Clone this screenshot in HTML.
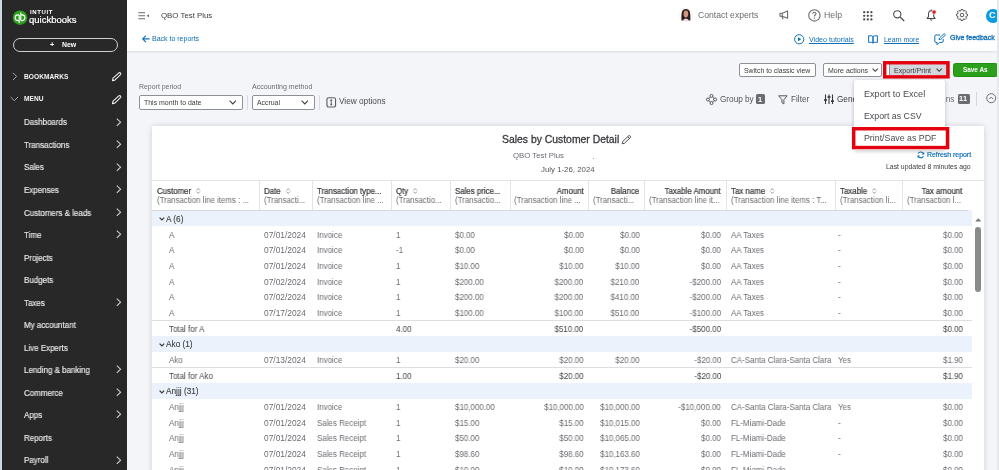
<!DOCTYPE html>
<html><head><meta charset="utf-8">
<style>
*{box-sizing:border-box;margin:0;padding:0}
html,body{width:999px;height:470px;overflow:hidden}
body{position:relative;background:#f4f5f8;font-family:"Liberation Sans",sans-serif;color:#393a3d}
.a{position:absolute;white-space:nowrap;will-change:transform}
svg{position:absolute;overflow:visible}
#lstrip{left:0;top:0;width:2px;height:470px;background:#cdd8e5}
#side{left:2px;top:0;width:125px;height:470px;background:#282828}
#rstrip{left:997px;top:0;width:2px;height:470px;background:#e6e7ea}
#hdr{left:127px;top:0;width:870px;height:52px;background:#fff;border-bottom:1.5px solid #e1e2e6;box-shadow:0 1px 1.5px rgba(0,0,0,0.04)}
.mi{left:24px;font-size:8.4px;color:#ececec;line-height:10px;-webkit-text-stroke:0.15px #ececec;transform:scaleX(0.95);transform-origin:0 0}
.sb{font-size:6.6px;font-weight:bold;color:#f4f4f4;left:24px;line-height:10px;letter-spacing:0.05px}
.lnk{color:#0d6fb8}
.gry{color:#6b6c72}
.hl{font-size:8.4px;line-height:10px;color:#393a3d;-webkit-text-stroke:0.22px #393a3d;transform:scaleX(0.94);transform-origin:0 0}
.hr{font-size:8.4px;line-height:10px;color:#393a3d;-webkit-text-stroke:0.22px #393a3d;transform:scaleX(0.94);transform-origin:100% 0}
.h2l{font-size:8.4px;line-height:10px;transform:scaleX(0.94);transform-origin:0 0}
.dl{font-size:8.4px;line-height:10px;transform:scaleX(0.95);transform-origin:0 0}
.dr{font-size:8.4px;line-height:10px;transform:scaleX(0.95);transform-origin:100% 0}
</style></head><body>
<div id="lstrip" class="a"></div>
<div id="side" class="a"></div>
<div id="hdr" class="a"></div>

<!-- sidebar content -->
<svg style="left:12px;top:9.5px" width="16" height="16" viewBox="0 0 16 16">
  <circle cx="8" cy="7.7" r="7.3" fill="#2ca01c"/>
  <path d="M7.2 4.9 H6 A2.85 2.85 0 0 0 6 10.6 H7.2 M7.2 4.9 V13 M8.8 10.6 H10 A2.85 2.85 0 0 0 10 4.9 H8.8 M8.8 2.6 V10.6" stroke="#fff" stroke-width="1.15" fill="none"/>
</svg>
<div class="a" style="left:29.7px;top:9px;font-size:6px;font-weight:bold;color:#fff;letter-spacing:0.6px;line-height:6px">INTUIT</div>
<div class="a" style="left:29.3px;top:13.6px;font-size:9.5px;color:#fff;line-height:11px;-webkit-text-stroke:0.2px #fff">quickbooks</div>
<div class="a" style="left:12.5px;top:38.3px;width:105px;height:13.5px;border:1.3px solid #cfcfcf;border-radius:7px"></div>
<div class="a" style="left:49.8px;top:39.6px;font-size:7.4px;font-weight:bold;color:#fff;line-height:10px">+</div><div class="a" style="left:62px;top:39.7px;font-size:6.9px;font-weight:bold;color:#fff;line-height:10px">New</div>

<svg style="left:12px;top:72px" width="6" height="9" viewBox="0 0 6 9"><path d="M1 0.8 L4.6 4.4 L1 8" stroke="#a8a8a8" stroke-width="1" fill="none"/></svg>
<div class="a sb" style="top:72px">BOOKMARKS</div>
<svg style="left:110.5px;top:72.3px" width="11" height="10" viewBox="0 0 11 10"><path d="M1.5 8.6 L2 6.2 L7.8 0.9 Q8.6 0.2 9.4 1 Q10.2 1.8 9.5 2.6 L3.8 8.1 Z" stroke="#eee" stroke-width="1.1" fill="none" stroke-linejoin="round"/></svg>

<svg style="left:10px;top:95.5px" width="9" height="6" viewBox="0 0 9 6"><path d="M0.6 1 L4.3 4.7 L8 1" stroke="#a8a8a8" stroke-width="1" fill="none"/></svg>
<div class="a sb" style="top:94px">MENU</div>
<svg style="left:110.5px;top:94.5px" width="11" height="10" viewBox="0 0 11 10"><path d="M1.5 8.6 L2 6.2 L7.8 0.9 Q8.6 0.2 9.4 1 Q10.2 1.8 9.5 2.6 L3.8 8.1 Z" stroke="#eee" stroke-width="1.1" fill="none" stroke-linejoin="round"/></svg>

<div class="a mi" style="top:117.40px">Dashboards</div>
<svg style="left:115.5px;top:117.60px" width="6" height="9" viewBox="0 0 6 9"><path d="M0.8 0.6 L4.6 4.2 L0.8 7.8" stroke="#cfcfcf" stroke-width="1.05" fill="none"/></svg>
<div class="a mi" style="top:139.93px">Transactions</div>
<svg style="left:115.5px;top:140.13px" width="6" height="9" viewBox="0 0 6 9"><path d="M0.8 0.6 L4.6 4.2 L0.8 7.8" stroke="#cfcfcf" stroke-width="1.05" fill="none"/></svg>
<div class="a mi" style="top:162.46px">Sales</div>
<svg style="left:115.5px;top:162.66px" width="6" height="9" viewBox="0 0 6 9"><path d="M0.8 0.6 L4.6 4.2 L0.8 7.8" stroke="#cfcfcf" stroke-width="1.05" fill="none"/></svg>
<div class="a mi" style="top:184.99px">Expenses</div>
<svg style="left:115.5px;top:185.19px" width="6" height="9" viewBox="0 0 6 9"><path d="M0.8 0.6 L4.6 4.2 L0.8 7.8" stroke="#cfcfcf" stroke-width="1.05" fill="none"/></svg>
<div class="a mi" style="top:207.52px">Customers &amp; leads</div>
<svg style="left:115.5px;top:207.72px" width="6" height="9" viewBox="0 0 6 9"><path d="M0.8 0.6 L4.6 4.2 L0.8 7.8" stroke="#cfcfcf" stroke-width="1.05" fill="none"/></svg>
<div class="a mi" style="top:230.05px">Time</div>
<svg style="left:115.5px;top:230.25px" width="6" height="9" viewBox="0 0 6 9"><path d="M0.8 0.6 L4.6 4.2 L0.8 7.8" stroke="#cfcfcf" stroke-width="1.05" fill="none"/></svg>
<div class="a mi" style="top:252.58px">Projects</div>
<div class="a mi" style="top:275.11px">Budgets</div>
<div class="a mi" style="top:297.64px">Taxes</div>
<svg style="left:115.5px;top:297.84px" width="6" height="9" viewBox="0 0 6 9"><path d="M0.8 0.6 L4.6 4.2 L0.8 7.8" stroke="#cfcfcf" stroke-width="1.05" fill="none"/></svg>
<div class="a mi" style="top:320.17px">My accountant</div>
<div class="a mi" style="top:342.70px">Live Experts</div>
<div class="a mi" style="top:365.23px">Lending &amp; banking</div>
<svg style="left:115.5px;top:365.43px" width="6" height="9" viewBox="0 0 6 9"><path d="M0.8 0.6 L4.6 4.2 L0.8 7.8" stroke="#cfcfcf" stroke-width="1.05" fill="none"/></svg>
<div class="a mi" style="top:387.76px">Commerce</div>
<svg style="left:115.5px;top:387.96px" width="6" height="9" viewBox="0 0 6 9"><path d="M0.8 0.6 L4.6 4.2 L0.8 7.8" stroke="#cfcfcf" stroke-width="1.05" fill="none"/></svg>
<div class="a mi" style="top:410.29px">Apps</div>
<svg style="left:115.5px;top:410.49px" width="6" height="9" viewBox="0 0 6 9"><path d="M0.8 0.6 L4.6 4.2 L0.8 7.8" stroke="#cfcfcf" stroke-width="1.05" fill="none"/></svg>
<div class="a mi" style="top:432.82px">Reports</div>
<div class="a mi" style="top:455.35px">Payroll</div>
<svg style="left:115.5px;top:455.55px" width="6" height="9" viewBox="0 0 6 9"><path d="M0.8 0.6 L4.6 4.2 L0.8 7.8" stroke="#cfcfcf" stroke-width="1.05" fill="none"/></svg>

<!-- header -->
<svg style="left:137.5px;top:11.5px" width="12" height="8" viewBox="0 0 12 8"><path d="M0.3 0.8 H7.1 M0.3 3.8 H7.1 M0.3 6.8 H7.1" stroke="#6b6c72" stroke-width="1.1"/><path d="M11 2.3 L8.6 3.8 L11 5.3 Z" fill="#6b6c72"/></svg>
<div class="a" style="left:160.8px;top:10.7px;font-size:7.85px;color:#393a3d;line-height:10px">QBO Test Plus</div>
<svg style="left:141.8px;top:34.8px" width="8" height="8" viewBox="0 0 8 8"><path d="M7.6 3.9 H0.8 M3.9 0.6 L0.7 3.9 L3.9 7.2" stroke="#0d6fb8" stroke-width="1.1" fill="none"/></svg>
<div class="a lnk" style="left:151.8px;top:33.5px;font-size:7px;line-height:10px">Back to reports</div>

<!-- avatar -->
<svg style="left:679.3px;top:8.3px" width="14" height="14" viewBox="0 0 14 14">
  <circle cx="6.9" cy="6.9" r="6.7" fill="#fff" stroke="#e6e6e8" stroke-width="0.4"/>
  <path d="M2.5 12.6 Q2.1 6 3.2 3 Q4.5 0.9 6.9 1 Q9.3 0.9 10.6 3 Q11.7 6 11.3 12.6 Z" fill="#2a1f1c"/>
  <ellipse cx="6.9" cy="6" rx="2.35" ry="3.4" fill="#cf957f"/>
  <path d="M3.8 13 Q4.3 10.6 6.9 10.4 Q9.5 10.6 10 13 Z" fill="#f2d4da"/>
</svg>
<div class="a gry" style="left:698px;top:10.2px;font-size:8.65px;line-height:10px">Contact experts</div>
<!-- megaphone -->
<svg style="left:778.5px;top:10px" width="11" height="10" viewBox="0 0 11 10"><path d="M1 3.2 H3.3 L8.6 0.9 V8.3 L3.3 6.2 H1 Z M3.3 3.2 V6.2 M3 6.2 L4.1 9.2" stroke="#6b6c72" stroke-width="1.1" fill="none" stroke-linejoin="round"/></svg>
<!-- help -->
<svg style="left:807.5px;top:8.7px" width="13" height="13" viewBox="0 0 13 13"><circle cx="6.4" cy="6.4" r="5.7" stroke="#6b6c72" stroke-width="1.1" fill="none"/><path d="M4.7 5 Q4.8 3.3 6.4 3.3 Q8 3.3 8 4.8 Q8 5.8 6.9 6.3 Q6.4 6.6 6.4 7.4" stroke="#6b6c72" stroke-width="1.05" fill="none"/><circle cx="6.4" cy="9.1" r="0.7" fill="#6b6c72"/></svg>
<div class="a gry" style="left:824.3px;top:10px;font-size:8.75px;line-height:10px">Help</div>
<!-- grid -->
<svg style="left:862.6px;top:10.6px" width="10" height="10" viewBox="0 0 10 10" fill="#4a4b50"><circle cx="1.2" cy="1.2" r="1.15"/><circle cx="4.8" cy="1.2" r="1.15"/><circle cx="8.4" cy="1.2" r="1.15"/><circle cx="1.2" cy="4.8" r="1.15"/><circle cx="4.8" cy="4.8" r="1.15"/><circle cx="8.4" cy="4.8" r="1.15"/><circle cx="1.2" cy="8.4" r="1.15"/><circle cx="4.8" cy="8.4" r="1.15"/><circle cx="8.4" cy="8.4" r="1.15"/></svg>
<!-- search -->
<svg style="left:893px;top:9.8px" width="12" height="12" viewBox="0 0 12 12"><circle cx="4.3" cy="4.3" r="3.6" stroke="#4a4b50" stroke-width="1.1" fill="none"/><path d="M7 7 L11.2 11" stroke="#4a4b50" stroke-width="1.2"/></svg>
<!-- bell -->
<svg style="left:925.5px;top:9.2px" width="12" height="13" viewBox="0 0 12 13"><path d="M5.1 0.4 V1.6 M5.1 1.7 C3.1 1.7 2.5 3.5 2.5 5.4 V7.6 L1.1 9.4 H9.1 L7.7 7.6 V5.4 C7.7 3.5 7.1 1.7 5.1 1.7 Z" stroke="#4a4b50" stroke-width="1.05" fill="none" stroke-linejoin="round"/><path d="M3.9 10.5 Q5.1 11.9 6.3 10.5" stroke="#4a4b50" stroke-width="1" fill="none"/><circle cx="8.1" cy="3.1" r="2.1" fill="#e81f2a" stroke="#fff" stroke-width="0.5"/></svg>
<!-- gear -->
<svg style="left:955.7px;top:9.2px" width="12" height="12" viewBox="0 0 12 12"><path d="M4.56 2.05 L5.07 0.58 L6.93 0.58 L7.44 2.05 L7.77 2.19 L9.18 1.51 L10.49 2.82 L9.81 4.23 L9.95 4.56 L11.42 5.07 L11.42 6.93 L9.95 7.44 L9.81 7.77 L10.49 9.18 L9.18 10.49 L7.77 9.81 L7.44 9.95 L6.93 11.42 L5.07 11.42 L4.56 9.95 L4.23 9.81 L2.82 10.49 L1.51 9.18 L2.19 7.77 L2.05 7.44 L0.58 6.93 L0.58 5.07 L2.05 4.56 L2.19 4.23 L1.51 2.82 L2.82 1.51 L4.23 2.19 Z" stroke="#4a4b50" stroke-width="0.95" fill="none" stroke-linejoin="round"/><circle cx="6" cy="6" r="1.8" stroke="#4a4b50" stroke-width="0.95" fill="none"/></svg>
<!-- user circle -->
<div class="a" style="left:985.5px;top:8.5px;width:13.5px;height:13.5px;border-radius:50%;background:#0d9de4"></div>
<div class="a" style="left:988.6px;top:10px;font-size:9.2px;font-weight:bold;color:#fff;line-height:10px">C</div>

<!-- links row -->
<svg style="left:793.5px;top:34px" width="11" height="11" viewBox="0 0 11 11"><circle cx="5.2" cy="5.3" r="4.6" stroke="#0d6fb8" stroke-width="1" fill="none"/><path d="M4 3.3 L7.2 5.3 L4 7.3 Z" fill="#0d6fb8"/></svg>
<div class="a lnk" style="left:809.2px;top:34.8px;font-size:7.1px;line-height:10px;text-decoration:underline">Video tutorials</div>
<svg style="left:868.3px;top:34.5px" width="11" height="9" viewBox="0 0 11 9"><path d="M0.6 0.8 H3.5 Q5 0.8 5 2.2 V8.2 Q5 7.3 3.5 7.3 H0.6 Z M9.4 0.8 H6.5 Q5 0.8 5 2.2 V8.2 Q5 7.3 6.5 7.3 H9.4 Z" stroke="#0d6fb8" stroke-width="1" fill="none" stroke-linejoin="round"/></svg>
<div class="a lnk" style="left:883.7px;top:34.8px;font-size:6.9px;line-height:10px;text-decoration:underline">Learn more</div>
<svg style="left:934px;top:32.8px" width="13" height="13" viewBox="0 0 13 13"><path d="M6.2 2 H2 Q0.8 2 0.8 3.2 V8.2 Q0.8 9.4 2 9.4 H3 V11.8 L5.4 9.4 H8 Q9.2 9.4 9.2 8.2 V6" stroke="#0d6fb8" stroke-width="1" fill="none" stroke-linejoin="round"/><path d="M5 6.6 L5.4 5 L10.2 0.6 L11.5 1.9 L6.8 6.3 Z" stroke="#0d6fb8" stroke-width="0.95" fill="none" stroke-linejoin="round"/></svg>
<div class="a lnk" style="left:950px;top:33.2px;font-size:7px;line-height:10px;-webkit-text-stroke:0.3px #0d6fb8">Give feedback</div>

<!-- controls -->
<div class="a gry" style="left:138.5px;top:82.1px;font-size:6.95px;line-height:10px">Report period</div>
<div class="a" style="left:138.5px;top:95.2px;width:103.5px;height:15.2px;border:1px solid #8d9096;border-radius:2px;background:#fff"></div>
<div class="a" style="left:144px;top:97.6px;font-size:6.95px;line-height:10px">This month to date</div>
<svg style="left:228.8px;top:100px" width="8" height="5" viewBox="0 0 8 5"><path d="M0.6 0.7 L3.8 3.9 L7 0.7" stroke="#393a3d" stroke-width="1.05" fill="none"/></svg>
<div class="a" style="left:247.4px;top:95.2px;width:0.8px;height:15px;background:#d9dbe0"></div>
<div class="a gry" style="left:252.2px;top:82.1px;font-size:7.05px;line-height:10px">Accounting method</div>
<div class="a" style="left:252.2px;top:95.2px;width:62.6px;height:15.2px;border:1px solid #8d9096;border-radius:2px;background:#fff"></div>
<div class="a" style="left:257.3px;top:97.6px;font-size:6.9px;line-height:10px">Accrual</div>
<svg style="left:301.3px;top:100px" width="8" height="5" viewBox="0 0 8 5"><path d="M0.6 0.7 L3.8 3.9 L7 0.7" stroke="#393a3d" stroke-width="1.05" fill="none"/></svg>
<div class="a" style="left:319.2px;top:95.2px;width:0.8px;height:15px;background:#d9dbe0"></div>
<svg style="left:326.3px;top:96.8px" width="11" height="11" viewBox="0 0 11 11"><rect x="0.95" y="0.75" width="8.6" height="9.2" rx="1.6" stroke="#5d5e63" stroke-width="1.15" fill="none"/><path d="M5.25 3 V7.7" stroke="#5d5e63" stroke-width="0.9"/><circle cx="5.25" cy="3.2" r="0.95" fill="#5d5e63"/><circle cx="5.25" cy="7.5" r="0.95" fill="#5d5e63"/></svg>
<div class="a" style="left:339.3px;top:97.4px;font-size:8.25px;line-height:10px;color:#4a4b50">View options</div>

<!-- buttons -->
<div class="a" style="left:739.2px;top:63.3px;width:76.6px;height:13.5px;border:1px solid #8d9096;border-radius:2px;background:#fff"></div>
<div class="a" style="left:744.3px;top:65.6px;font-size:6.9px;line-height:10px">Switch to classic view</div>
<div class="a" style="left:822.8px;top:63.3px;width:59px;height:13.5px;border:1px solid #8d9096;border-radius:2px;background:#fff"></div>
<div class="a" style="left:827.8px;top:65.6px;font-size:7px;line-height:10px">More actions</div>
<svg style="left:872px;top:68.2px" width="7" height="5" viewBox="0 0 7 5"><path d="M0.6 0.7 L3.2 3.3 L5.8 0.7" stroke="#393a3d" stroke-width="1.05" fill="none"/></svg>

<div class="a" style="left:886.5px;top:64px;width:60px;height:11px;background:#fff"></div><div class="a" style="left:888.8px;top:64px;width:57.5px;height:11px;background:#d4d7dc;border-left:1.2px solid #8d9096;border-right:1px solid #8d9096"></div>
<div class="a" style="left:894.2px;top:65.6px;font-size:7.1px;line-height:10px;color:#393a3d">Export/Print</div>
<svg style="left:935.5px;top:68.2px" width="7" height="5" viewBox="0 0 7 5"><path d="M0.6 0.7 L3.2 3.3 L5.8 0.7" stroke="#393a3d" stroke-width="1.05" fill="none"/></svg>
<svg style="left:883px;top:60.5px" width="67" height="18" viewBox="0 0 67 18"><rect x="1.7" y="1.75" width="63.3" height="14.1" stroke="#e3000f" stroke-width="3.4" fill="none"/></svg>

<div class="a" style="left:952.8px;top:63.2px;width:45px;height:13.5px;background:#2ca01c;border:0.8px solid #22900f;border-radius:2.5px"></div>
<div class="a" style="left:962.9px;top:65px;font-size:6.4px;font-weight:bold;color:#fff;line-height:10px">Save As</div>

<!-- toolbar row -->
<svg style="left:706px;top:93.8px" width="11" height="11" viewBox="0 0 11 11"><g stroke="#55565b" stroke-width="1" fill="none"><circle cx="5.5" cy="1.9" r="1.5"/><circle cx="5.5" cy="9.1" r="1.5"/><circle cx="1.9" cy="5.5" r="1.5"/><circle cx="9.1" cy="5.5" r="1.5"/><path d="M4.4 3 L3 4.4 M6.6 3 L8 4.4 M4.4 8 L3 6.6 M6.6 8 L8 6.6"/></g></svg>
<div class="a" style="left:720px;top:94.6px;font-size:8.2px;line-height:10px;color:#55565b">Group by</div>
<div class="a" style="left:756px;top:94.4px;width:8.6px;height:9.6px;background:#6b6c72;border-radius:1.5px"></div>
<div class="a" style="left:758.2px;top:94.8px;font-size:7.4px;font-weight:bold;color:#fff;line-height:10px">1</div>
<svg style="left:777.6px;top:94.8px" width="10" height="10" viewBox="0 0 10 10"><path d="M0.6 0.8 H9.2 L5.9 4.6 V8.9 L3.9 7.7 V4.6 Z" stroke="#55565b" stroke-width="1" fill="none" stroke-linejoin="round"/></svg>
<div class="a" style="left:791px;top:94.6px;font-size:8.2px;line-height:10px;color:#55565b">Filter</div>
<svg style="left:823.8px;top:94px" width="10" height="11" viewBox="0 0 10 11"><g stroke="#393a3d" stroke-width="1.1"><path d="M1.5 0.5 V10 M5 0.5 V10 M8.5 0.5 V10"/></g><g fill="#393a3d"><rect x="0" y="5.2" width="3" height="1.6"/><rect x="3.5" y="2.2" width="3" height="1.6"/><rect x="7" y="6.4" width="3" height="1.6"/></g></svg>
<div class="a" style="left:837px;top:94.6px;font-size:8.2px;line-height:10px;color:#393a3d">General options</div>
<div class="a" style="right:44.5px;top:94.6px;font-size:8.2px;line-height:10px;color:#6b6c72">Columns</div>
<div class="a" style="left:957.6px;top:94px;width:12.3px;height:9.8px;background:#6b6c72;border-radius:1.5px"></div>
<div class="a" style="left:959.4px;top:94.3px;font-size:7.4px;font-weight:bold;color:#fff;line-height:10px;letter-spacing:0.4px">11</div>
<div class="a" style="left:976.4px;top:92px;width:0.8px;height:13.7px;background:#d4d7dc"></div>
<svg style="left:985.5px;top:93.4px" width="11" height="11" viewBox="0 0 11 11"><circle cx="5.2" cy="5.2" r="4.5" stroke="#6b6c72" stroke-width="1" fill="none"/><path d="M3.3 6 L5.2 4.1 L7.1 6" stroke="#6b6c72" stroke-width="1" fill="none"/></svg>

<div class="a" style="left:152px;top:126px;width:832px;height:360px;background:#fff;box-shadow:0 0 6px rgba(0,0,0,0.15)"></div>
<div class="a" style="left:501.7px;top:134px;font-size:10.4px;line-height:12px;color:#393a3d;-webkit-text-stroke:0.3px #393a3d">Sales by Customer Detail</div>
<svg style="left:621px;top:134.5px" width="11" height="10" viewBox="0 0 11 10"><path d="M1.2 8.8 L1.6 6.6 L7.6 0.9 Q8.4 0.2 9.2 1 Q10 1.8 9.3 2.6 L3.4 8.3 Z M6.8 1.8 L8.5 3.4" stroke="#393a3d" stroke-width="0.9" fill="none" stroke-linejoin="round"/></svg>
<div class="a gry" style="left:512.8px;top:151.1px;font-size:7.8px;line-height:10px">QBO Test Plus</div>
<div class="a" style="left:593.1px;top:157.5px;width:1px;height:1px;background:#999"></div>
<div class="a" style="left:541px;top:165px;font-size:7.85px;line-height:10px;color:#55565b">July 1-26, 2024</div>
<svg style="left:916.8px;top:151.2px" width="8" height="8" viewBox="0 0 8 8"><path d="M6.6 3 A3 3 0 0 0 1.2 2.4 M1 4.8 A3 3 0 0 0 6.4 5.4" stroke="#0d6fb8" stroke-width="1.1" fill="none"/><path d="M7.2 0.9 V3.4 H4.8 Z M0.6 6.9 V4.4 H3 Z" fill="#0d6fb8"/></svg>
<div class="a lnk" style="left:927px;top:149.5px;font-size:6.9px;line-height:10px;-webkit-text-stroke:0.2px #0d6fb8">Refresh report</div>
<div class="a" style="left:886px;top:161.8px;font-size:6.86px;line-height:10px;color:#393a3d">Last updated 8 minutes ago</div>
<div class="a" style="left:152px;top:180.3px;width:832px;height:1px;background:#e3e4e8"></div>
<div class="a" style="left:259.0px;top:181px;width:1px;height:29px;background:#e3e4e8"></div>
<div class="a" style="left:312.0px;top:181px;width:1px;height:29px;background:#e3e4e8"></div>
<div class="a" style="left:390.5px;top:181px;width:1px;height:29px;background:#e3e4e8"></div>
<div class="a" style="left:450.0px;top:181px;width:1px;height:29px;background:#e3e4e8"></div>
<div class="a" style="left:509.5px;top:181px;width:1px;height:29px;background:#e3e4e8"></div>
<div class="a" style="left:588.0px;top:181px;width:1px;height:29px;background:#e3e4e8"></div>
<div class="a" style="left:644.0px;top:181px;width:1px;height:29px;background:#e3e4e8"></div>
<div class="a" style="left:725.5px;top:181px;width:1px;height:29px;background:#e3e4e8"></div>
<div class="a" style="left:834.5px;top:181px;width:1px;height:29px;background:#e3e4e8"></div>
<div class="a" style="left:902.0px;top:181px;width:1px;height:29px;background:#e3e4e8"></div>
<div class="a hl" style="left:156.9px;top:185.7px">Customer</div>
<svg style="left:195.5px;top:187.9px" width="5" height="6" viewBox="0 0 5 6"><path d="M0.5 2.4 L2.2 0.6 L3.9 2.4 M0.5 3.6 L2.2 5.4 L3.9 3.6" stroke="#7d7f85" stroke-width="0.75" fill="none"/></svg>
<div class="a gry h2l" style="left:156.9px;top:195.3px">(Transaction line items : ...</div>
<div class="a hl" style="left:264.4px;top:185.7px">Date</div>
<svg style="left:285.5px;top:187.9px" width="5" height="6" viewBox="0 0 5 6"><path d="M0.5 2.4 L2.2 0.6 L3.9 2.4 M0.5 3.6 L2.2 5.4 L3.9 3.6" stroke="#7d7f85" stroke-width="0.75" fill="none"/></svg>
<div class="a gry h2l" style="left:264.4px;top:195.3px">(Transacti...</div>
<div class="a hl" style="left:317.4px;top:185.7px">Transaction type...</div>
<div class="a gry h2l" style="left:317.4px;top:195.3px">(Transaction line ...</div>
<div class="a hl" style="left:395.9px;top:185.7px">Qty</div>
<svg style="left:412.6px;top:187.9px" width="5" height="6" viewBox="0 0 5 6"><path d="M0.5 2.4 L2.2 0.6 L3.9 2.4 M0.5 3.6 L2.2 5.4 L3.9 3.6" stroke="#7d7f85" stroke-width="0.75" fill="none"/></svg>
<div class="a gry h2l" style="left:395.9px;top:195.3px">(Transactio...</div>
<div class="a hl" style="left:455.4px;top:185.7px">Sales price...</div>
<div class="a gry h2l" style="left:455.4px;top:195.3px">(Transactio...</div>
<div class="a hr" style="right:415.5px;top:185.7px">Amount</div>
<div class="a gry h2l" style="left:514.0px;top:195.3px">(Transaction line ...</div>
<div class="a hr" style="right:359.5px;top:185.7px">Balance</div>
<div class="a gry h2l" style="left:592.5px;top:195.3px">(Transacti...</div>
<div class="a hr" style="right:278.0px;top:185.7px">Taxable Amount</div>
<div class="a gry h2l" style="left:648.5px;top:195.3px">(Transaction line it...</div>
<div class="a hl" style="left:730.9px;top:185.7px">Tax name</div>
<svg style="left:769.5px;top:187.9px" width="5" height="6" viewBox="0 0 5 6"><path d="M0.5 2.4 L2.2 0.6 L3.9 2.4 M0.5 3.6 L2.2 5.4 L3.9 3.6" stroke="#7d7f85" stroke-width="0.75" fill="none"/></svg>
<div class="a gry h2l" style="left:730.9px;top:195.3px">(Transaction line items : T...</div>
<div class="a hl" style="left:839.9px;top:185.7px">Taxable</div>
<svg style="left:871.5px;top:187.9px" width="5" height="6" viewBox="0 0 5 6"><path d="M0.5 2.4 L2.2 0.6 L3.9 2.4 M0.5 3.6 L2.2 5.4 L3.9 3.6" stroke="#7d7f85" stroke-width="0.75" fill="none"/></svg>
<div class="a gry h2l" style="left:839.9px;top:195.3px">(Transaction li...</div>
<div class="a hr" style="right:36.5px;top:185.7px">Tax amount</div>
<div class="a gry h2l" style="left:906.5px;top:195.3px">(Transaction l...</div>
<div class="a" style="left:152px;top:210.30px;width:820.4px;height:15.67px;background:#ebf2fb"></div>
<svg style="left:158.9px;top:217.14px" width="6" height="4" viewBox="0 0 6 4"><path d="M0.6 0.6 L2.9 2.9 L5.2 0.6" stroke="#393a3d" stroke-width="1.25" fill="none"/></svg>
<div class="a" style="left:166.1px;top:214.74px;font-size:8.25px;line-height:10px;color:#393a3d;-webkit-text-stroke:0.1px #393a3d">A (6)</div>
<div class="a dl" style="left:168.5px;top:229.71px;color:#6b6c72">A</div>
<div class="a dl" style="left:264.2px;top:229.71px;color:#6b6c72;transform:none">07/01/2024</div>
<div class="a dl" style="left:317.2px;top:229.71px;color:#6b6c72">Invoice</div>
<div class="a dl" style="left:395.7px;top:229.71px;color:#6b6c72">1</div>
<div class="a dl" style="left:455.2px;top:229.71px;color:#6b6c72">$0.00</div>
<div class="a dr" style="right:415.3px;top:229.71px;color:#6b6c72">$0.00</div>
<div class="a dr" style="right:359.3px;top:229.71px;color:#6b6c72">$0.00</div>
<div class="a dr" style="right:277.8px;top:229.71px;color:#6b6c72">$0.00</div>
<div class="a dl" style="left:730.7px;top:229.71px;color:#6b6c72">AA Taxes</div>
<div class="a dl" style="left:837.6px;top:229.71px;color:#6b6c72">-</div>
<div class="a dr" style="right:36.5px;top:229.71px;color:#6b6c72">$0.00</div>
<div class="a dl" style="left:168.5px;top:245.38px;color:#6b6c72">A</div>
<div class="a dl" style="left:264.2px;top:245.38px;color:#6b6c72;transform:none">07/01/2024</div>
<div class="a dl" style="left:317.2px;top:245.38px;color:#6b6c72">Invoice</div>
<div class="a dl" style="left:395.7px;top:245.38px;color:#6b6c72">-1</div>
<div class="a dl" style="left:455.2px;top:245.38px;color:#6b6c72">$0.00</div>
<div class="a dr" style="right:415.3px;top:245.38px;color:#6b6c72">$0.00</div>
<div class="a dr" style="right:359.3px;top:245.38px;color:#6b6c72">$0.00</div>
<div class="a dr" style="right:277.8px;top:245.38px;color:#6b6c72">$0.00</div>
<div class="a dl" style="left:730.7px;top:245.38px;color:#6b6c72">AA Taxes</div>
<div class="a dl" style="left:837.6px;top:245.38px;color:#6b6c72">-</div>
<div class="a dr" style="right:36.5px;top:245.38px;color:#6b6c72">$0.00</div>
<div class="a dl" style="left:168.5px;top:261.04px;color:#6b6c72">A</div>
<div class="a dl" style="left:264.2px;top:261.04px;color:#6b6c72;transform:none">07/01/2024</div>
<div class="a dl" style="left:317.2px;top:261.04px;color:#6b6c72">Invoice</div>
<div class="a dl" style="left:395.7px;top:261.04px;color:#6b6c72">1</div>
<div class="a dl" style="left:455.2px;top:261.04px;color:#6b6c72">$10.00</div>
<div class="a dr" style="right:415.3px;top:261.04px;color:#6b6c72">$10.00</div>
<div class="a dr" style="right:359.3px;top:261.04px;color:#6b6c72">$10.00</div>
<div class="a dr" style="right:277.8px;top:261.04px;color:#6b6c72">$0.00</div>
<div class="a dl" style="left:730.7px;top:261.04px;color:#6b6c72">AA Taxes</div>
<div class="a dl" style="left:837.6px;top:261.04px;color:#6b6c72">-</div>
<div class="a dr" style="right:36.5px;top:261.04px;color:#6b6c72">$0.00</div>
<div class="a dl" style="left:168.5px;top:276.71px;color:#6b6c72">A</div>
<div class="a dl" style="left:264.2px;top:276.71px;color:#6b6c72;transform:none">07/02/2024</div>
<div class="a dl" style="left:317.2px;top:276.71px;color:#6b6c72">Invoice</div>
<div class="a dl" style="left:395.7px;top:276.71px;color:#6b6c72">1</div>
<div class="a dl" style="left:455.2px;top:276.71px;color:#6b6c72">$200.00</div>
<div class="a dr" style="right:415.3px;top:276.71px;color:#6b6c72">$200.00</div>
<div class="a dr" style="right:359.3px;top:276.71px;color:#6b6c72">$210.00</div>
<div class="a dr" style="right:277.8px;top:276.71px;color:#6b6c72">-$200.00</div>
<div class="a dl" style="left:730.7px;top:276.71px;color:#6b6c72">AA Taxes</div>
<div class="a dl" style="left:837.6px;top:276.71px;color:#6b6c72">-</div>
<div class="a dr" style="right:36.5px;top:276.71px;color:#6b6c72">$0.00</div>
<div class="a dl" style="left:168.5px;top:292.38px;color:#6b6c72">A</div>
<div class="a dl" style="left:264.2px;top:292.38px;color:#6b6c72;transform:none">07/02/2024</div>
<div class="a dl" style="left:317.2px;top:292.38px;color:#6b6c72">Invoice</div>
<div class="a dl" style="left:395.7px;top:292.38px;color:#6b6c72">1</div>
<div class="a dl" style="left:455.2px;top:292.38px;color:#6b6c72">$200.00</div>
<div class="a dr" style="right:415.3px;top:292.38px;color:#6b6c72">$200.00</div>
<div class="a dr" style="right:359.3px;top:292.38px;color:#6b6c72">$410.00</div>
<div class="a dr" style="right:277.8px;top:292.38px;color:#6b6c72">-$200.00</div>
<div class="a dl" style="left:730.7px;top:292.38px;color:#6b6c72">AA Taxes</div>
<div class="a dl" style="left:837.6px;top:292.38px;color:#6b6c72">-</div>
<div class="a dr" style="right:36.5px;top:292.38px;color:#6b6c72">$0.00</div>
<div class="a dl" style="left:168.5px;top:308.06px;color:#6b6c72">A</div>
<div class="a dl" style="left:264.2px;top:308.06px;color:#6b6c72;transform:none">07/17/2024</div>
<div class="a dl" style="left:317.2px;top:308.06px;color:#6b6c72">Invoice</div>
<div class="a dl" style="left:395.7px;top:308.06px;color:#6b6c72">1</div>
<div class="a dl" style="left:455.2px;top:308.06px;color:#6b6c72">$100.00</div>
<div class="a dr" style="right:415.3px;top:308.06px;color:#6b6c72">$100.00</div>
<div class="a dr" style="right:359.3px;top:308.06px;color:#6b6c72">$510.00</div>
<div class="a dr" style="right:277.8px;top:308.06px;color:#6b6c72">-$100.00</div>
<div class="a dl" style="left:730.7px;top:308.06px;color:#6b6c72">AA Taxes</div>
<div class="a dl" style="left:837.6px;top:308.06px;color:#6b6c72">-</div>
<div class="a dr" style="right:36.5px;top:308.06px;color:#6b6c72">$0.00</div>
<div class="a" style="left:152px;top:319.69px;width:820.4px;height:1px;background:#dcdee2"></div>
<div class="a dl" style="left:168.5px;top:323.73px;color:#45464b">Total for A</div>
<div class="a dl" style="left:395.7px;top:323.73px;color:#45464b">4.00</div>
<div class="a dr" style="right:415.3px;top:323.73px;color:#45464b">$510.00</div>
<div class="a dr" style="right:277.8px;top:323.73px;color:#45464b">-$500.00</div>
<div class="a dr" style="right:36.5px;top:323.73px;color:#45464b">$0.00</div>
<div class="a" style="left:152px;top:335.66px;width:820.4px;height:15.67px;background:#ebf2fb"></div>
<svg style="left:158.9px;top:342.50px" width="6" height="4" viewBox="0 0 6 4"><path d="M0.6 0.6 L2.9 2.9 L5.2 0.6" stroke="#393a3d" stroke-width="1.25" fill="none"/></svg>
<div class="a" style="left:166.1px;top:340.10px;font-size:8.25px;line-height:10px;color:#393a3d;-webkit-text-stroke:0.1px #393a3d">Ako (1)</div>
<div class="a dl" style="left:168.5px;top:355.07px;color:#6b6c72">Ako</div>
<div class="a dl" style="left:264.2px;top:355.07px;color:#6b6c72;transform:none">07/13/2024</div>
<div class="a dl" style="left:317.2px;top:355.07px;color:#6b6c72">Invoice</div>
<div class="a dl" style="left:395.7px;top:355.07px;color:#6b6c72">1</div>
<div class="a dl" style="left:455.2px;top:355.07px;color:#6b6c72">$20.00</div>
<div class="a dr" style="right:415.3px;top:355.07px;color:#6b6c72">$20.00</div>
<div class="a dr" style="right:359.3px;top:355.07px;color:#6b6c72">$20.00</div>
<div class="a dr" style="right:277.8px;top:355.07px;color:#6b6c72">-$20.00</div>
<div class="a dl" style="left:730.7px;top:355.07px;color:#6b6c72">CA-Santa Clara-Santa Clara</div>
<div class="a dl" style="left:837.6px;top:355.07px;color:#6b6c72">Yes</div>
<div class="a dr" style="right:36.5px;top:355.07px;color:#6b6c72">$1.90</div>
<div class="a" style="left:152px;top:366.70px;width:820.4px;height:1px;background:#dcdee2"></div>
<div class="a dl" style="left:168.5px;top:370.74px;color:#45464b">Total for Ako</div>
<div class="a dl" style="left:395.7px;top:370.74px;color:#45464b">1.00</div>
<div class="a dr" style="right:415.3px;top:370.74px;color:#45464b">$20.00</div>
<div class="a dr" style="right:277.8px;top:370.74px;color:#45464b">-$20.00</div>
<div class="a dr" style="right:36.5px;top:370.74px;color:#45464b">$1.90</div>
<div class="a" style="left:152px;top:382.67px;width:820.4px;height:15.67px;background:#ebf2fb"></div>
<svg style="left:158.9px;top:389.51px" width="6" height="4" viewBox="0 0 6 4"><path d="M0.6 0.6 L2.9 2.9 L5.2 0.6" stroke="#393a3d" stroke-width="1.25" fill="none"/></svg>
<div class="a" style="left:166.1px;top:387.11px;font-size:8.25px;line-height:10px;color:#393a3d;-webkit-text-stroke:0.1px #393a3d">Anjjj (31)</div>
<div class="a dl" style="left:168.5px;top:402.08px;color:#6b6c72">Anjjj</div>
<div class="a dl" style="left:264.2px;top:402.08px;color:#6b6c72;transform:none">07/01/2024</div>
<div class="a dl" style="left:317.2px;top:402.08px;color:#6b6c72">Invoice</div>
<div class="a dl" style="left:395.7px;top:402.08px;color:#6b6c72">1</div>
<div class="a dl" style="left:455.2px;top:402.08px;color:#6b6c72">$10,000.00</div>
<div class="a dr" style="right:415.3px;top:402.08px;color:#6b6c72">$10,000.00</div>
<div class="a dr" style="right:359.3px;top:402.08px;color:#6b6c72">$10,000.00</div>
<div class="a dr" style="right:277.8px;top:402.08px;color:#6b6c72">-$10,000.00</div>
<div class="a dl" style="left:730.7px;top:402.08px;color:#6b6c72">CA-Santa Clara-Santa Clara</div>
<div class="a dl" style="left:837.6px;top:402.08px;color:#6b6c72">Yes</div>
<div class="a dr" style="right:36.5px;top:402.08px;color:#6b6c72">$0.00</div>
<div class="a dl" style="left:168.5px;top:417.75px;color:#6b6c72">Anjjj</div>
<div class="a dl" style="left:264.2px;top:417.75px;color:#6b6c72;transform:none">07/01/2024</div>
<div class="a dl" style="left:317.2px;top:417.75px;color:#6b6c72">Sales Receipt</div>
<div class="a dl" style="left:395.7px;top:417.75px;color:#6b6c72">1</div>
<div class="a dl" style="left:455.2px;top:417.75px;color:#6b6c72">$15.00</div>
<div class="a dr" style="right:415.3px;top:417.75px;color:#6b6c72">$15.00</div>
<div class="a dr" style="right:359.3px;top:417.75px;color:#6b6c72">$10,015.00</div>
<div class="a dr" style="right:277.8px;top:417.75px;color:#6b6c72">$0.00</div>
<div class="a dl" style="left:730.7px;top:417.75px;color:#6b6c72">FL-Miami-Dade</div>
<div class="a dl" style="left:837.6px;top:417.75px;color:#6b6c72">-</div>
<div class="a dr" style="right:36.5px;top:417.75px;color:#6b6c72">$0.00</div>
<div class="a dl" style="left:168.5px;top:433.42px;color:#6b6c72">Anjjj</div>
<div class="a dl" style="left:264.2px;top:433.42px;color:#6b6c72;transform:none">07/01/2024</div>
<div class="a dl" style="left:317.2px;top:433.42px;color:#6b6c72">Sales Receipt</div>
<div class="a dl" style="left:395.7px;top:433.42px;color:#6b6c72">1</div>
<div class="a dl" style="left:455.2px;top:433.42px;color:#6b6c72">$50.00</div>
<div class="a dr" style="right:415.3px;top:433.42px;color:#6b6c72">$50.00</div>
<div class="a dr" style="right:359.3px;top:433.42px;color:#6b6c72">$10,065.00</div>
<div class="a dr" style="right:277.8px;top:433.42px;color:#6b6c72">$0.00</div>
<div class="a dl" style="left:730.7px;top:433.42px;color:#6b6c72">FL-Miami-Dade</div>
<div class="a dl" style="left:837.6px;top:433.42px;color:#6b6c72">-</div>
<div class="a dr" style="right:36.5px;top:433.42px;color:#6b6c72">$0.00</div>
<div class="a dl" style="left:168.5px;top:449.09px;color:#6b6c72">Anjjj</div>
<div class="a dl" style="left:264.2px;top:449.09px;color:#6b6c72;transform:none">07/01/2024</div>
<div class="a dl" style="left:317.2px;top:449.09px;color:#6b6c72">Sales Receipt</div>
<div class="a dl" style="left:395.7px;top:449.09px;color:#6b6c72">1</div>
<div class="a dl" style="left:455.2px;top:449.09px;color:#6b6c72">$98.60</div>
<div class="a dr" style="right:415.3px;top:449.09px;color:#6b6c72">$98.60</div>
<div class="a dr" style="right:359.3px;top:449.09px;color:#6b6c72">$10,163.60</div>
<div class="a dr" style="right:277.8px;top:449.09px;color:#6b6c72">$0.00</div>
<div class="a dl" style="left:730.7px;top:449.09px;color:#6b6c72">FL-Miami-Dade</div>
<div class="a dl" style="left:837.6px;top:449.09px;color:#6b6c72">-</div>
<div class="a dr" style="right:36.5px;top:449.09px;color:#6b6c72">$0.00</div>
<div class="a dl" style="left:168.5px;top:464.76px;color:#6b6c72">Anjjj</div>
<div class="a dl" style="left:264.2px;top:464.76px;color:#6b6c72;transform:none">07/01/2024</div>
<div class="a dl" style="left:317.2px;top:464.76px;color:#6b6c72">Sales Receipt</div>
<div class="a dl" style="left:395.7px;top:464.76px;color:#6b6c72">1</div>
<div class="a dl" style="left:455.2px;top:464.76px;color:#6b6c72">$10.00</div>
<div class="a dr" style="right:415.3px;top:464.76px;color:#6b6c72">$10.00</div>
<div class="a dr" style="right:359.3px;top:464.76px;color:#6b6c72">$10,173.60</div>
<div class="a dr" style="right:277.8px;top:464.76px;color:#6b6c72">$0.00</div>
<div class="a dl" style="left:730.7px;top:464.76px;color:#6b6c72">FL-Miami-Dade</div>
<div class="a dl" style="left:837.6px;top:464.76px;color:#6b6c72">-</div>
<div class="a dr" style="right:36.5px;top:464.76px;color:#6b6c72">$0.00</div>
<div class="a" style="left:152px;top:209.6px;width:816px;height:1px;background:#d6d8dc"></div>
<svg style="left:975px;top:217.6px" width="7" height="4" viewBox="0 0 7 4"><path d="M0.2 3.6 L3.3 0.3 L6.4 3.6 Z" fill="#777"/></svg>
<div class="a" style="left:975.4px;top:226.6px;width:6.2px;height:65px;background:#8a8a8a;border-radius:3.1px"></div>

<!-- dropdown -->
<div class="a" style="left:853.8px;top:79.6px;width:91.4px;height:70.3px;background:#fff;border-radius:3px;box-shadow:0 1px 4px rgba(0,0,0,0.24)"></div>
<div class="a" style="left:863.8px;top:88.8px;font-size:9.1px;line-height:10px;color:#4a4b50">Export to Excel</div>
<div class="a" style="left:863.8px;top:110.9px;font-size:8.8px;line-height:10px;color:#4a4b50">Export as CSV</div>
<div class="a" style="left:863.8px;top:133.3px;font-size:8.8px;line-height:10px;color:#4a4b50">Print/Save as PDF</div>
<svg style="left:851.8px;top:126.6px" width="98" height="23" viewBox="0 0 98 23"><rect x="1.7" y="1.75" width="93.9" height="18.8" stroke="#e3000f" stroke-width="3.45" fill="none"/></svg>

<div id="rstrip" class="a"></div>
</body></html>
